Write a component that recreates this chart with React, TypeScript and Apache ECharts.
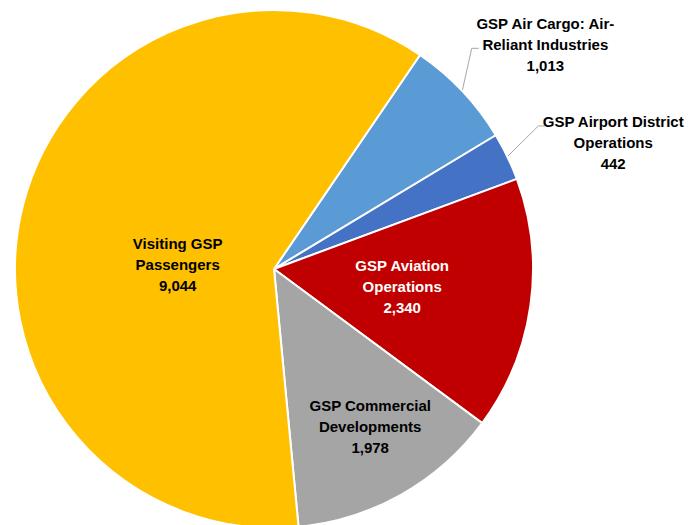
import React, { useEffect, useRef } from "react";
import * as echarts from "echarts";

const categories = [
  "GSP Air Cargo: Air-\nReliant Industries",
  "GSP Airport District\nOperations",
  "GSP Aviation\nOperations",
  "GSP Commercial\nDevelopments",
  "Visiting GSP\nPassengers",
];
const values = [1013, 442, 2340, 1978, 9044];
const colors = ["#5B9BD5", "#4472C4", "#C00000", "#A5A5A5", "#FFC000"];
const labelColors = ["#000000", "#000000", "#FFFFFF", "#000000", "#000000"];
const insideFlags = [false, false, true, true, true];
// label nudges relative to ECharts' default label positions
const labelDx = [-14, 4, -3, 31, 32];
const labelDy = [-33, -5, -1, 42, 29];
// which text row the leader line points at (outside labels)
const guideRow = [1, 0, 0, 0, 0];
const LINE_H = 21;

export default function App() {
  const ref = useRef<HTMLDivElement>(null);
  useEffect(() => {
    if (!ref.current) return;
    const chart = echarts.init(ref.current, undefined, { renderer: "svg" });
    const fmt = (v: number) => v.toLocaleString("en-US");
    chart.setOption({
      animation: false,
      backgroundColor: "#FFFFFF",
      series: [
        {
          type: "pie",
          center: [274, 269],
          radius: [0, 259],
          startAngle: 55.7,
          clockwise: true,
          avoidLabelOverlap: false,
          itemStyle: { borderColor: "#FFFFFF", borderWidth: 2 },
          labelLayout: (p: any) => {
            const i = p.dataIndex;
            if (insideFlags[i]) return { dx: labelDx[i], dy: labelDy[i] };
            const r = p.labelRect;
            const cx = r.x + r.width / 2 + labelDx[i];
            const cy = r.y + r.height / 2 + labelDy[i];
            const left = cx - r.width / 2;
            const top = cy - r.height / 2;
            const p0 = p.labelLinePoints ? p.labelLinePoints[0] : [left, top];
            const p2 = [left + 3, top + LINE_H * (guideRow[i] + 0.5) + 4];
            const p1 = [p2[0] - 7, p2[1]];
            return {
              x: cx,
              y: cy,
              align: "center",
              verticalAlign: "middle",
              labelLinePoints: [p0, p1, p2],
            };
          },
          data: categories.map((name, i) => ({
            name,
            value: values[i],
            itemStyle: { color: colors[i] },
            label: {
              show: true,
              position: insideFlags[i] ? "inside" : "outside",
              alignTo: "none",
              overflow: "none",
              formatter: (p: any) => `${p.name}\n${fmt(p.value)}`,
              color: labelColors[i],
              fontFamily: "'Liberation Sans', Arial, sans-serif",
              fontWeight: "bold",
              fontSize: 15,
              lineHeight: LINE_H,
              align: "center",
            },
            labelLine: {
              show: !insideFlags[i],
              length: 20,
              length2: 8,
              lineStyle: { color: "#A6A6A6", width: 1 },
            },
          })),
        },
      ],
    });
    return () => chart.dispose();
  }, []);
  return (
    <div
      ref={ref}
      style={{ position: "fixed", left: 0, top: 0, width: 689, height: 525 }}
    />
  );
}
